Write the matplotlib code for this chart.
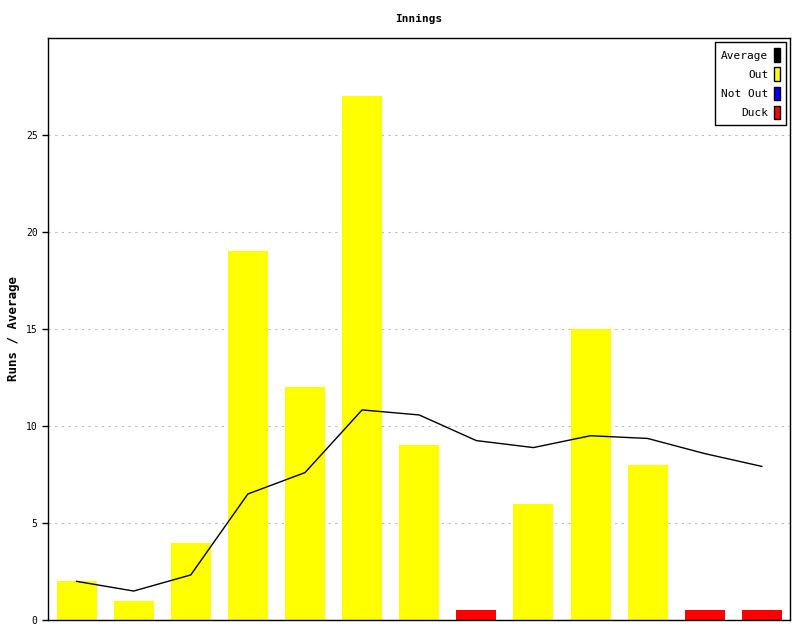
import matplotlib.pyplot as plt
from matplotlib.patches import Patch

# Innings data
runs = [2, 1, 4, 19, 12, 27, 9, 0.5, 6, 15, 8, 0.5, 0.5]
status = ["Out", "Out", "Out", "Out", "Out", "Out", "Out", "Duck",
          "Out", "Out", "Out", "Duck", "Duck"]
average = [2.0, 1.5, 2.33, 6.5, 7.6, 10.83, 10.57, 9.25, 8.89, 9.5, 9.36, 8.58, 7.92]
status_colors = {"Average": "black", "Out": "#ffff00", "Not Out": "#0000ff", "Duck": "#ff0000"}
y_ticks = [0, 5, 10, 15, 20, 25]

plt.rcParams['font.family'] = 'DejaVu Sans Mono'

fig = plt.figure(figsize=(8, 6.4), dpi=100)
ax = fig.add_axes([0.06, 0.031, 0.928, 0.91])

x = list(range(len(runs)))
ax.bar(x, runs, width=0.7, color=[status_colors[s] for s in status], zorder=2)
ax.plot(x, average, color='black', linewidth=1, zorder=3)

ax.set_xlim(-0.5, len(runs) - 0.5)
ax.set_ylim(0, 30)
ax.set_xticks([])
ax.set_yticks(y_ticks)
ax.tick_params(axis='y', labelsize=7, length=4, width=1)
ax.yaxis.grid(True, linestyle=(0, (2, 4)), color='#bbbbbb', linewidth=0.8, zorder=0)
for s in ax.spines.values():
    s.set_linewidth(1)

ax.set_title("Innings", fontsize=8, fontweight='bold', pad=11)
ax.set_ylabel("Runs / Average", fontsize=9, fontweight='bold')
ax.yaxis.set_label_coords(-0.038, 0.5)

handles = [Patch(facecolor=status_colors[k], edgecolor='black', label=k)
           for k in ["Average", "Out", "Not Out", "Duck"]]
leg = ax.legend(handles=handles, loc='upper right', markerfirst=False, fontsize=8,
                handlelength=0.55, handleheight=1.5, handletextpad=0.5,
                labelspacing=0.5, borderpad=0.55, fancybox=False,
                edgecolor='black', framealpha=1, borderaxespad=0.4)
leg.get_frame().set_linewidth(1)
for t in leg.get_texts():
    t.set_ha('right')

fig.savefig("out.png", dpi=100)
